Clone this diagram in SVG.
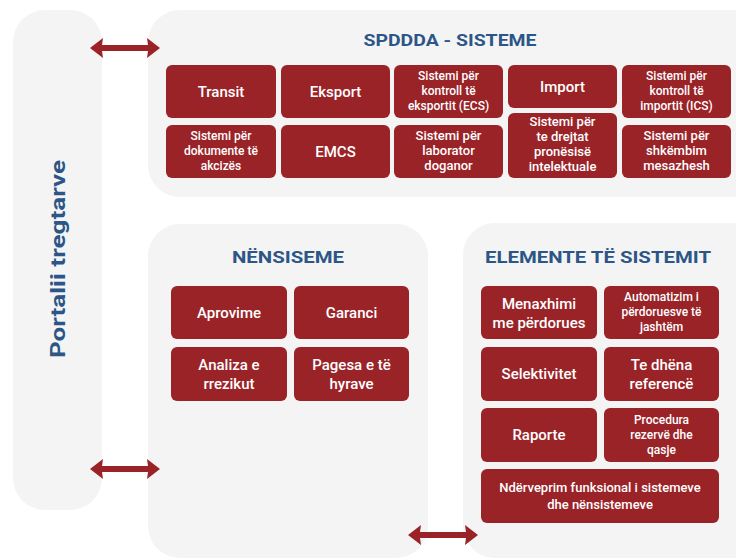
<svg xmlns="http://www.w3.org/2000/svg" width="736" height="560" viewBox="0 0 736 560">
<defs>
<style>
.panel{fill:#f4f4f4}
.box{fill:#9a2328}
.bt{font-family:Roboto,"Liberation Sans",sans-serif;font-weight:500;fill:#ffffff;text-anchor:middle}
.b1{font-size:15px}
.b2{font-size:13px}
.b3{font-size:12px}
.title{font-family:Roboto,"Liberation Sans",sans-serif;font-weight:bold;fill:#2c5687;text-anchor:middle;font-size:17px}
.arrow{fill:#9a2328}
</style>
<polygon id="dbl" points="-35,0 -22,-10 -23,-3 23,-3 22,-10 35,0 22,10 23,3 -23,3 -22,10"/>
</defs>
<rect width="736" height="560" fill="#ffffff"/>

<g id="portal">
<rect class="panel" x="13" y="10" width="89" height="500" rx="32"/>
<text class="title" transform="translate(65,259) rotate(-90)" style="font-size:20px" textLength="198" lengthAdjust="spacingAndGlyphs">Portalii tregtarve</text>
</g>

<g id="spddda">
<rect class="panel" x="148" y="10" width="620" height="187" rx="32"/>
<text class="title" x="450" y="46" textLength="173" lengthAdjust="spacingAndGlyphs">SPDDDA - SISTEME</text>
</g>
<g id="transit"><rect class="box" x="166" y="65" width="110" height="53" rx="6"/><text class="bt b1" x="221" y="97">Transit</text></g>
<g id="eksport"><rect class="box" x="281" y="65" width="109" height="53" rx="6"/><text class="bt b1" x="335.5" y="97">Eksport</text></g>
<g id="ecs"><rect class="box" x="394" y="65" width="109" height="53" rx="6"/><text class="bt b3" x="448.5" y="80">Sistemi për</text><text class="bt b3" x="448.5" y="95">kontroll të</text><text class="bt b3" x="448.5" y="110">eksportit (ECS)</text></g>
<g id="import"><rect class="box" x="508" y="65" width="109" height="43" rx="6"/><text class="bt b1" x="562.5" y="92">Import</text></g>
<g id="ics"><rect class="box" x="622" y="65" width="109" height="53" rx="6"/><text class="bt b3" x="676.5" y="80">Sistemi për</text><text class="bt b3" x="676.5" y="95">kontroll të</text><text class="bt b3" x="676.5" y="110">importit (ICS)</text></g>
<g id="akcize"><rect class="box" x="166" y="125" width="110" height="53" rx="6"/><text class="bt b3" x="221" y="140">Sistemi për</text><text class="bt b3" x="221" y="155">dokumente të</text><text class="bt b3" x="221" y="170">akcizës</text></g>
<g id="emcs"><rect class="box" x="281" y="125" width="109" height="53" rx="6"/><text class="bt b1" x="335.5" y="157">EMCS</text></g>
<g id="laborator"><rect class="box" x="394" y="125" width="109" height="53" rx="6"/><text class="bt b2" x="448.5" y="140">Sistemi për</text><text class="bt b2" x="448.5" y="155">laborator</text><text class="bt b2" x="448.5" y="170">doganor</text></g>
<g id="pronesi"><rect class="box" x="508" y="113" width="109" height="65" rx="6"/><text class="bt b2" x="562.5" y="126">Sistemi për</text><text class="bt b2" x="562.5" y="141">te drejtat</text><text class="bt b2" x="562.5" y="156">pronësisë</text><text class="bt b2" x="562.5" y="171">intelektuale</text></g>
<g id="shkembim"><rect class="box" x="622" y="125" width="109" height="53" rx="6"/><text class="bt b2" x="676.5" y="140">Sistemi për</text><text class="bt b2" x="676.5" y="155">shkëmbim</text><text class="bt b2" x="676.5" y="170">mesazhesh</text></g>

<g id="nensiseme">
<rect class="panel" x="148" y="224" width="280" height="334" rx="32"/>
<text class="title" x="288" y="263" textLength="112" lengthAdjust="spacingAndGlyphs">NËNSISEME</text>
</g>
<g id="aprovime"><rect class="box" x="171" y="286" width="116" height="53" rx="6"/><text class="bt b1" x="229" y="318">Aprovime</text></g>
<g id="garanci"><rect class="box" x="294" y="286" width="115" height="53" rx="6"/><text class="bt b1" x="351.5" y="318">Garanci</text></g>
<g id="analiza"><rect class="box" x="171" y="347" width="116" height="54" rx="6"/><text class="bt b1" x="229" y="370">Analiza e</text><text class="bt b1" x="229" y="389">rrezikut</text></g>
<g id="pagesa"><rect class="box" x="294" y="347" width="115" height="54" rx="6"/><text class="bt b1" x="351.5" y="370">Pagesa e të</text><text class="bt b1" x="351.5" y="389">hyrave</text></g>

<g id="elemente">
<rect class="panel" x="463" y="223" width="305" height="335" rx="32"/>
<text class="title" x="598" y="263" textLength="226" lengthAdjust="spacingAndGlyphs">ELEMENTE TË SISTEMIT</text>
</g>
<g id="menaxhimi"><rect class="box" x="481" y="286" width="116" height="53" rx="6"/><text class="bt b1" x="539" y="309">Menaxhimi</text><text class="bt b1" x="539" y="328">me përdorues</text></g>
<g id="automatizim"><rect class="box" x="604" y="286" width="115" height="53" rx="6"/><text class="bt b3" x="661.5" y="301">Automatizim i</text><text class="bt b3" x="661.5" y="316">përdoruesve të</text><text class="bt b3" x="661.5" y="331">jashtëm</text></g>
<g id="selektivitet"><rect class="box" x="481" y="347" width="116" height="54" rx="6"/><text class="bt b1" x="539" y="379">Selektivitet</text></g>
<g id="tedhena"><rect class="box" x="604" y="347" width="115" height="54" rx="6"/><text class="bt b1" x="661.5" y="370">Te dhëna</text><text class="bt b1" x="661.5" y="389">referencë</text></g>
<g id="raporte"><rect class="box" x="481" y="408" width="116" height="54" rx="6"/><text class="bt b1" x="539" y="440">Raporte</text></g>
<g id="procedura"><rect class="box" x="604" y="408" width="115" height="54" rx="6"/><text class="bt b3" x="661.5" y="424">Procedura</text><text class="bt b3" x="661.5" y="439">rezervë dhe</text><text class="bt b3" x="661.5" y="454">qasje</text></g>
<g id="nderveprim"><rect class="box" x="481" y="469" width="238" height="54" rx="6"/><text class="bt b2" x="600" y="492">Ndërveprim funksional i sistemeve</text><text class="bt b2" x="600" y="509">dhe nënsistemeve</text></g>

<g id="connectors" class="arrow">
<use href="#dbl" transform="translate(125,48)"/>
<use href="#dbl" transform="translate(125,469)"/>
<use href="#dbl" transform="translate(443,535)"/>
</g>
</svg>
